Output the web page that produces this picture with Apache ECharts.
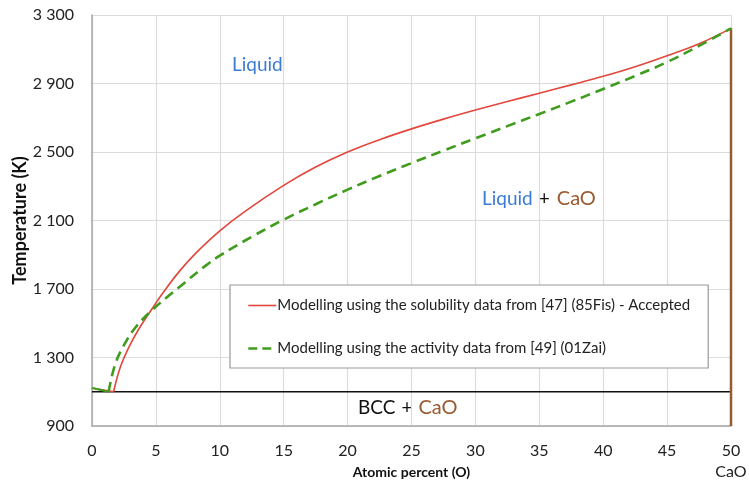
<!DOCTYPE html>
<html>
<head>
<meta charset="utf-8">
<script src="https://cdn.jsdelivr.net/npm/echarts@6/dist/echarts.min.js"></script>
<style>
  html, body { margin: 0; padding: 0; background: #fff; }
  #chart { width: 749px; height: 484px; }
</style>
</head>
<body>
<div id="chart"></div>
<script>
// Ca–O phase diagram (Ca-rich side up to CaO)

// Axis ticks
const xTicks = [0, 5, 10, 15, 20, 25, 30, 35, 40, 45, 50];
const yTicks = [900, 1300, 1700, 2100, 2500, 2900, 3300];

// Invariant temperatures (K)
const eutecticT = 1100;
const caoMeltT = 3222;
const caMeltT = 1122;

// Liquidus from solubility data [47] (85Fis) - accepted
const solX = [1.69, 2.2, 2.85, 3.65, 4.7, 5.5, 6.8, 8.2, 10, 12, 15, 17.5, 20, 22.5, 25, 27.5, 30, 32.5, 35, 37.5, 40, 42.5, 45, 47.5, 50];
const solT = [1100, 1240, 1355, 1465, 1585, 1672, 1800, 1915, 2040, 2155, 2305, 2412, 2500, 2572, 2635, 2692, 2745, 2795, 2843, 2892, 2942, 2998, 3062, 3132, 3222];

// Liquidus from activity data [49] (01Zai)
const actX = [1.3, 1.82, 2.6, 3.4, 4.56, 6.0, 7.3, 8.87, 10, 12.5, 15, 17.5, 20, 22.5, 25, 27.5, 30, 32.5, 35, 37.5, 40, 42.5, 45, 47.5, 50];
const actT = [1100, 1262, 1385, 1475, 1567, 1660, 1740, 1835, 1895, 2005, 2105, 2195, 2280, 2360, 2435, 2508, 2580, 2651, 2722, 2794, 2868, 2944, 3025, 3120, 3222];

// Ca-side liquidus end points (x, T)
const solCaSide = [[0, caMeltT], [1.69, eutecticT]];
const actCaSide = [[0, caMeltT], [1.3, eutecticT]];

const nameSol = 'Modelling using the solubility data from [47] (85Fis) - Accepted';
const nameAct = 'Modelling using the activity data from [49] (01Zai)';

const RED = '#e2463c';
const GREEN = '#3f9c1c';
const BROWN = '#9a5a30';
const BLUE = '#3a7bd5';
const FONT = 'Lato, "Noto Sans", sans-serif';

const zip = (xs, ys) => xs.map((x, i) => [x, ys[i]]);

function fmtK(v) {
  if (v >= 1000) {
    return Math.floor(v / 1000) + ' ' + String(v % 1000).padStart(3, '0');
  }
  return String(v);
}

const chart = echarts.init(document.getElementById('chart'), null, { renderer: 'canvas' });

chart.setOption({
  animation: false,
  backgroundColor: '#fff',
  textStyle: { fontFamily: FONT },
  grid: { left: 92, right: 18, top: 15, bottom: 58, containLabel: false, outerBoundsMode: 'none' },
  xAxis: {
    type: 'value',
    min: xTicks[0],
    max: xTicks[xTicks.length - 1],
    interval: 5,
    name: 'Atomic percent (O)',
    nameLocation: 'middle',
    nameGap: 39,
    nameMoveOverlap: false,
    nameTextStyle: { fontFamily: FONT, fontSize: 14, fontWeight: 'bold', color: '#111' },
    axisLine: { lineStyle: { color: '#a6a6a6', width: 1.5 } },
    axisTick: { show: false },
    axisLabel: {
      fontFamily: FONT, fontSize: 16, color: '#222', margin: 14, lineHeight: 21,
      formatter: v => (v === 50 ? '50\nCaO' : String(v))
    },
    splitLine: { show: true, lineStyle: { color: '#dcdcdc', width: 1.2 } }
  },
  yAxis: {
    type: 'value',
    min: yTicks[0],
    max: yTicks[yTicks.length - 1],
    interval: 400,
    name: 'Temperature (K)',
    nameLocation: 'middle',
    nameGap: 63,
    nameMoveOverlap: false,
    nameRotate: 90,
    nameTextStyle: { fontFamily: FONT, fontSize: 18, fontWeight: 'bold', color: '#111' },
    axisLine: { show: true, lineStyle: { color: '#a6a6a6', width: 1.5 } },
    axisTick: { show: false },
    axisLabel: { fontFamily: FONT, fontSize: 16, color: '#222', margin: 18, formatter: fmtK },
    splitLine: { show: true, lineStyle: { color: '#dcdcdc', width: 1.2 } }
  },
  legend: {
    data: [
      { name: nameSol, lineStyle: { color: RED, width: 1.6, type: 'solid' } },
      { name: nameAct, lineStyle: { color: GREEN, width: 2.6, type: [9, 5] } }
    ],
    orient: 'vertical',
    left: 230,
    top: 285,
    padding: [13, 18, 12, 17],
    itemGap: 28,
    itemWidth: 28,
    itemHeight: 10,
    itemStyle: { opacity: 0 },
    borderColor: '#9a9a9a',
    borderWidth: 1.2,
    backgroundColor: '#fff',
    textStyle: { fontFamily: FONT, fontSize: 15, color: '#222', padding: [0, 0, 0, -4] }
  },
  series: [
    {
      name: 'caSideSol', type: 'line', data: solCaSide, showSymbol: false, silent: true,
      lineStyle: { color: RED, width: 1.6 }, z: 3
    },
    {
      name: 'caSideAct', type: 'line', data: actCaSide, showSymbol: false, silent: true,
      lineStyle: { color: GREEN, width: 2.2 }, z: 4
    },
    {
      name: 'eutectic', type: 'line', data: [[xTicks[0], eutecticT], [xTicks[xTicks.length - 1], eutecticT]],
      showSymbol: false, silent: true, lineStyle: { color: '#111', width: 1.6 }, z: 2
    },
    {
      name: 'CaO', type: 'line', data: [[50, yTicks[0]], [50, caoMeltT]],
      showSymbol: false, silent: true, lineStyle: { color: BROWN, width: 2.5 }, z: 2
    },
    {
      name: nameSol, type: 'line', data: zip(solX, solT), smooth: 0.4,
      showSymbol: false, symbol: 'none',
      itemStyle: { color: RED },
      lineStyle: { color: RED, width: 1.6 }, z: 3
    },
    {
      name: nameAct, type: 'line', data: zip(actX, actT), smooth: 0.4,
      showSymbol: false, symbol: 'none',
      itemStyle: { color: GREEN },
      lineStyle: { color: GREEN, width: 2.6, type: [10, 6] }, z: 4
    }
  ],
  graphic: [
    {
      type: 'text', left: 232, top: 55,
      style: { text: 'Liquid', fill: BLUE, font: '19px ' + FONT }
    },
    {
      type: 'text', left: 482, top: 189,
      style: {
        text: '{b|Liquid}{k|+}{c|CaO}',
        rich: {
          b: { fill: BLUE, font: '19px ' + FONT },
          k: { fill: '#111', font: '19px ' + FONT, padding: [0, 7, 0, 6] },
          c: { fill: BROWN, font: '20px ' + FONT }
        }
      }
    },
    {
      type: 'text', left: 358, top: 398,
      style: {
        text: '{k|BCC}{p|+}{c|CaO}',
        rich: {
          k: { fill: '#111', font: '19px ' + FONT },
          p: { fill: '#111', font: '19px ' + FONT, padding: [0, 6, 0, 6] },
          c: { fill: BROWN, font: '20px ' + FONT }
        }
      }
    }
  ]
});
</script>
</body>
</html>
